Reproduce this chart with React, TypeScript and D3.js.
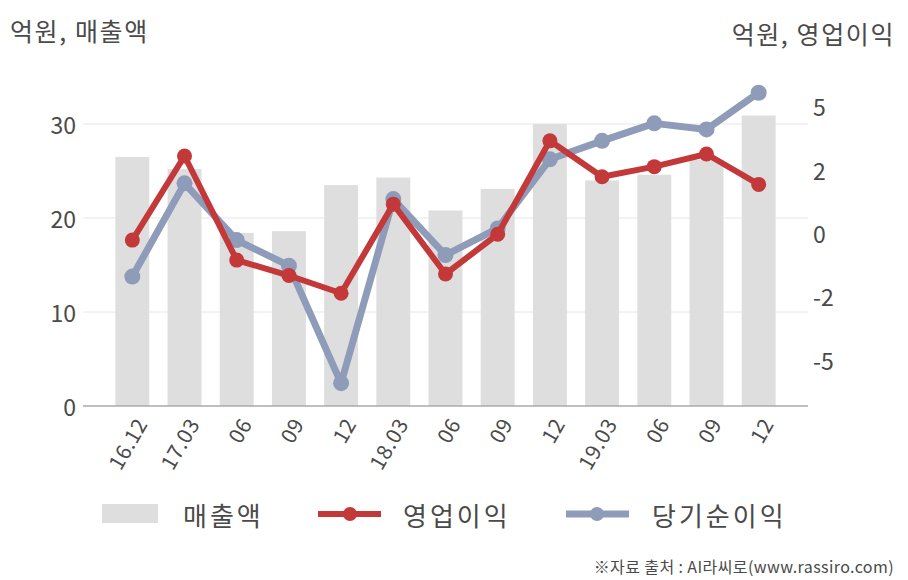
import React from "react";
import * as d3 from "d3";

const categories = ["16.12", "17.03", "06", "09", "12", "18.03", "06", "09", "12", "19.03", "06", "09", "12"];
const sales = [26.5, 25.2, 18.4, 18.6, 23.5, 24.3, 20.8, 23.1, 30.0, 24.0, 24.6, 26.2, 30.9];
const operatingProfit = [-0.28, 3.04, -1.07, -1.68, -2.38, 1.14, -1.62, -0.05, 3.64, 2.22, 2.62, 3.12, 1.92];
const netProfit = [-1.72, 1.96, -0.28, -1.29, -5.93, 1.34, -0.87, 0.18, 2.91, 3.64, 4.33, 4.09, 5.54];
const leftTicks = [0, 10, 20, 30];
const rightTickValues = [5, 2.5, 0, -2.5, -5];
const rightTickLabels = ["5", "2", "0", "-2", "-5"];
const legendLabels = ["매출액", "영업이익", "당기순이익"];

const W = 908;
const H = 580;
const FONT = "'Noto Sans CJK KR', 'Noto Sans', sans-serif";
const RED = "#c3393a";
const BLUE = "#8e9bb9";
const BAR = "#dedede";
const TEXT = "#4a4a4a";

export default function App() {
  const idx = categories.map((_, i) => String(i));
  const x = d3.scaleBand<string>().domain(idx).range([83, 808]).paddingInner(0.35).paddingOuter(0.62);
  const yL = d3.scaleLinear().domain([0, 35]).range([406, 77]);
  const yR = d3.scaleLinear().domain([-6.833, 6.161]).range([406, 77]);
  const cx = (i: number) => (x(String(i)) as number) + x.bandwidth() / 2;

  const lineGen = d3
    .line<number>()
    .x((_, i) => cx(i))
    .y((d) => yR(d));

  return (
    <svg width={W} height={H} style={{ position: "absolute", left: 0, top: 0, display: "block" }} fontFamily={FONT}>
      <rect width={W} height={H} fill="#fff" />
      {/* titles */}
      <text x={10} y={30} fontSize={25} fill={TEXT} letterSpacing={1.6} dominantBaseline="central">억원, 매출액</text>
      <text x={895} y={33} fontSize={25} fill={TEXT} letterSpacing={1.6} textAnchor="end" dominantBaseline="central">억원, 영업이익</text>

      {/* gridlines */}
      {leftTicks.filter((t) => t > 0).map((t) => (
        <line key={t} x1={83} x2={808} y1={yL(t)} y2={yL(t)} stroke="#e6e6e6" strokeWidth={1} />
      ))}

      {/* bars */}
      {sales.map((v, i) => (
        <rect key={i} x={x(String(i))} y={yL(v)} width={x.bandwidth()} height={yL(0) - yL(v)} fill={BAR} />
      ))}

      {/* axis line */}
      <line x1={83} x2={808} y1={yL(0)} y2={yL(0)} stroke="#aaa" strokeWidth={1.5} />

      {/* left ticks */}
      {leftTicks.map((t) => (
        <text key={t} x={76} y={yL(t)} fontSize={23} fill={TEXT} textAnchor="end" dominantBaseline="central">{t}</text>
      ))}
      {/* right ticks */}
      {rightTickValues.map((t, i) => (
        <text key={i} x={813} y={yR(t)} fontSize={23} fill={TEXT} dominantBaseline="central">{rightTickLabels[i]}</text>
      ))}

      {/* x labels */}
      {categories.map((c, i) => {
        const ax = cx(i) + 16;
        const ay = 424;
        return (
          <text key={i} x={ax} y={ay} fontSize={21} fill={TEXT} letterSpacing={0.5} textAnchor="end" transform={`rotate(-60 ${ax} ${ay})`}>{c}</text>
        );
      })}

      {/* net profit line */}
      <path d={lineGen(netProfit) || ""} fill="none" stroke={BLUE} strokeWidth={7} strokeLinejoin="round" />
      {netProfit.map((v, i) => (
        <circle key={i} cx={cx(i)} cy={yR(v)} r={8} fill={BLUE} />
      ))}

      {/* operating profit line */}
      <path d={lineGen(operatingProfit) || ""} fill="none" stroke={RED} strokeWidth={6} strokeLinejoin="round" />
      {operatingProfit.map((v, i) => (
        <circle key={i} cx={cx(i)} cy={yR(v)} r={7.5} fill={RED} />
      ))}

      {/* legend */}
      <rect x={102} y={504} width={56} height={19} fill={BAR} />
      <text x={183} y={514} fontSize={26} fill={TEXT} letterSpacing={3} dominantBaseline="central">{legendLabels[0]}</text>
      <line x1={318} x2={381} y1={514} y2={514} stroke={RED} strokeWidth={6} />
      <circle cx={350} cy={514} r={7} fill={RED} />
      <text x={403} y={514} fontSize={26} fill={TEXT} letterSpacing={3} dominantBaseline="central">{legendLabels[1]}</text>
      <line x1={566} x2={629} y1={514} y2={514} stroke={BLUE} strokeWidth={7} />
      <circle cx={597} cy={514} r={7} fill={BLUE} />
      <text x={652} y={514} fontSize={26} fill={TEXT} letterSpacing={3} dominantBaseline="central">{legendLabels[2]}</text>

      {/* source */}
      <text x={894} y={566} fontSize={16} fill={TEXT} letterSpacing={0.4} textAnchor="end" dominantBaseline="central">※자료 출처 : AI라씨로(www.rassiro.com)</text>
    </svg>
  );
}
